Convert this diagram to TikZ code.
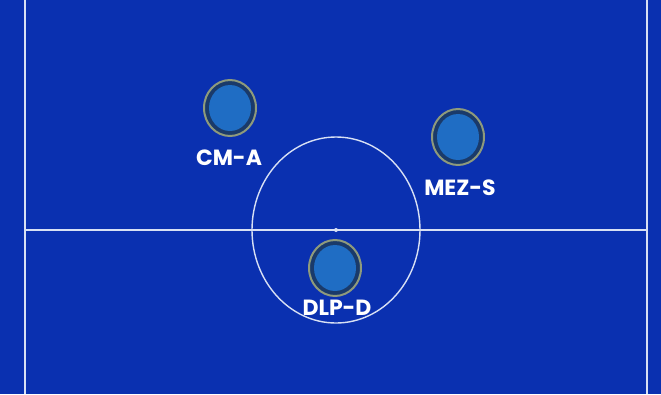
\documentclass[tikz,border=0pt]{standalone}
\usepackage{fontspec}
\setmainfont{Poppins}
\usetikzlibrary{shapes.geometric}
\definecolor{pitch}{HTML}{0A30B0}
\definecolor{ringout}{HTML}{8E9A7C}
\definecolor{ringin}{HTML}{1A3A6A}
\definecolor{disc}{HTML}{1F6DC4}
\definecolor{linec}{HTML}{D8E0F4}
\tikzset{
  pline/.style={draw=linec, line width=1.4pt},
  player/.style={ellipse, draw=ringout, line width=2pt, fill=ringin, minimum width=52pt, minimum height=56pt, inner sep=0pt},
  core/.style={ellipse, fill=disc, minimum width=42pt, minimum height=46pt, inner sep=0pt},
  lbl/.style={text=white, font=\bfseries\fontsize{22}{26}\selectfont, inner sep=0pt}
}
\begin{document}
\begin{tikzpicture}[x=1pt,y=-1pt]
\fill[pitch] (0,0) rectangle (661,394);
\useasboundingbox (0,0) rectangle (661,394);
\coordinate (tl) at (25,0);
\coordinate (bl) at (25,394);
\coordinate (tr) at (647,0);
\coordinate (br) at (647,394);
\coordinate (ml) at (25,230);
\coordinate (mr) at (647,230);
\coordinate (cc) at (336,230);
\draw[pline] (tl) -- (bl);
\draw[pline] (tr) -- (br);
\draw[pline] (ml) -- (mr);
\draw[pline] (cc) ellipse [x radius=84, y radius=93];
\fill[linec] (cc) circle (2);
\node[player] (pa) at (230,108) {};
\node[core] (pac) at (pa) {};
\node[player] (pb) at (458,137) {};
\node[core] (pbc) at (pb) {};
\node[player] (pc) at (335,268) {};
\node[core] (pcc) at (pc) {};
\node[lbl] (la) at (229,158) {CM-A};
\node[lbl] (lb) at (460,188) {MEZ-S};
\node[lbl] (lc) at (337,308) {DLP-D};
\end{tikzpicture}
\end{document}
